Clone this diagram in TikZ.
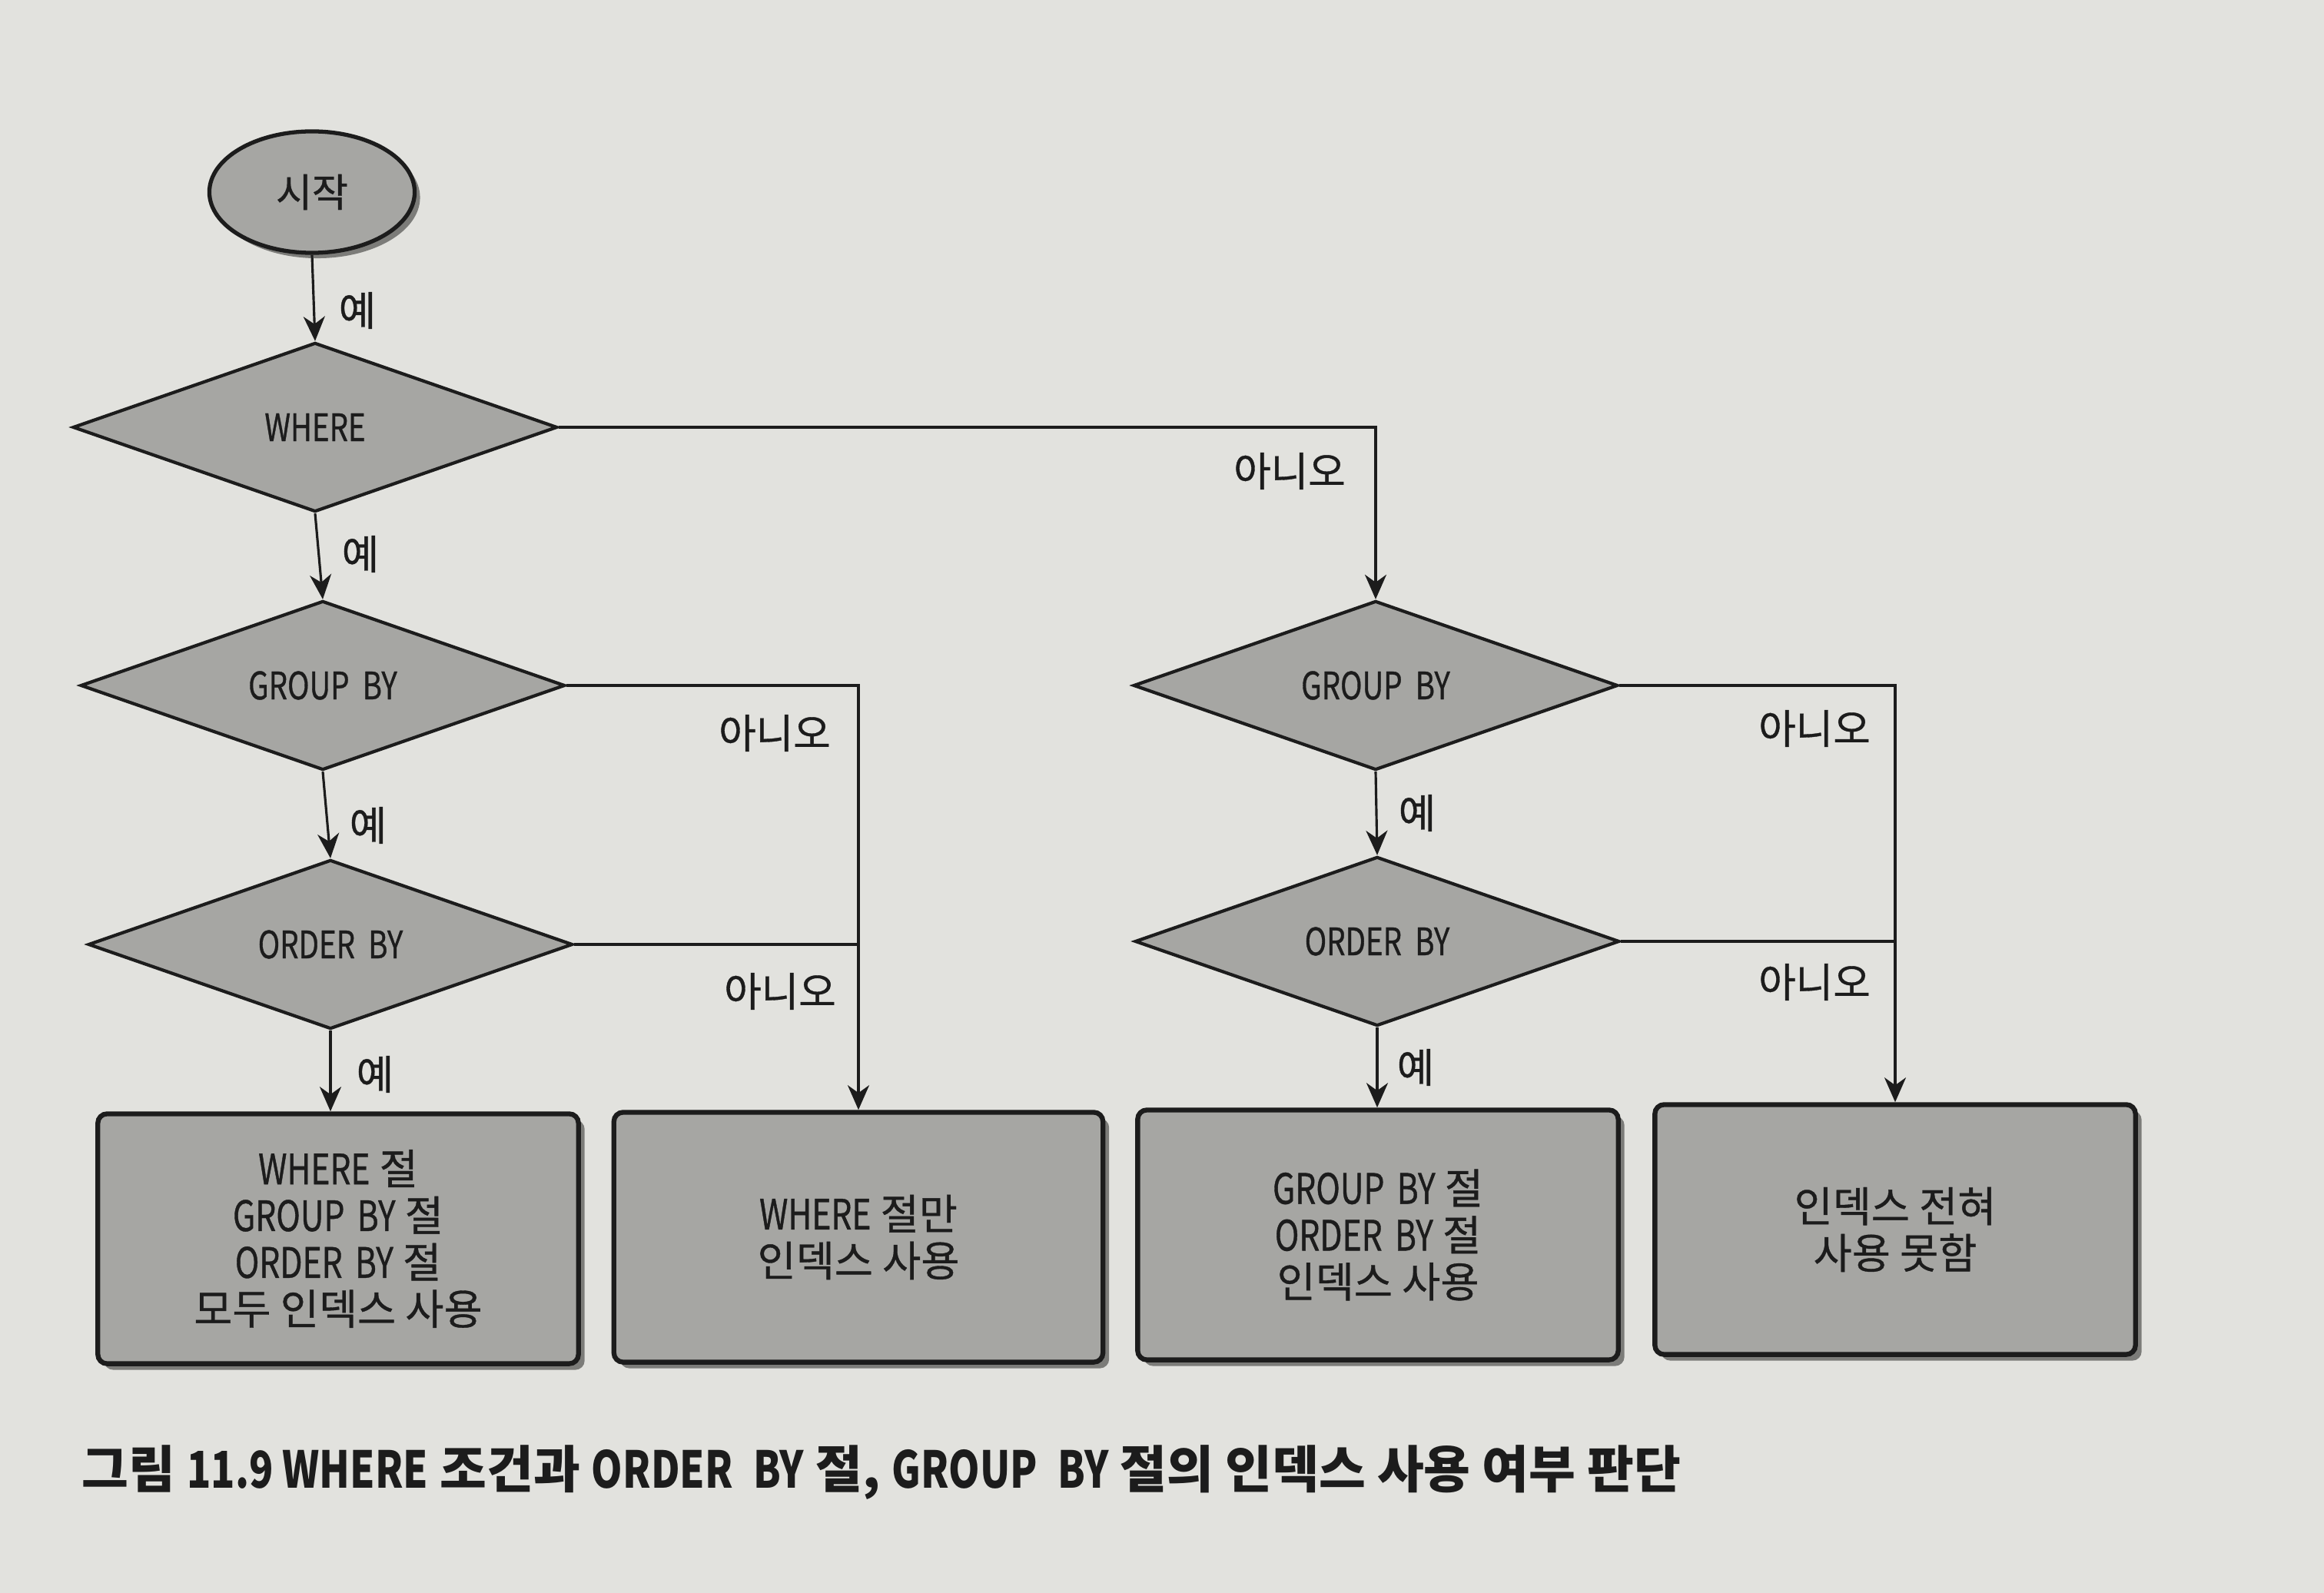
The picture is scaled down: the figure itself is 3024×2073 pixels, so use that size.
\documentclass[tikz,border=0pt]{standalone}
\usepackage{fontspec}
\setmainfont{Noto Sans CJK KR}
\newfontfamily\latf[FakeStretch=0.78]{Noto Sans CJK KR}
\newfontfamily\dkr[FakeBold=0.7]{Noto Sans CJK KR}
\newfontfamily\dlat[FakeStretch=0.78,FakeBold=0.7]{Noto Sans CJK KR}
\newcommand\lw[1]{{\latf #1}}
\newcommand\dw[1]{{\dlat #1}}
\usetikzlibrary{shapes.geometric,arrows.meta,shadows}
\definecolor{paper}{HTML}{E2E2DE}
\definecolor{shapefill}{HTML}{A6A6A3}
\definecolor{ink}{HTML}{1C1C1C}
\begin{document}
\begin{tikzpicture}[x=0.01cm,y=-0.01cm,
  dia/.style={diamond, draw=ink, line width=1.2pt, fill=shapefill,
    minimum width=6.3cm, minimum height=2.2cm, inner sep=0pt, aspect=2.86,
    font=\dkr\fontsize{14}{16}\selectfont, text=ink},
  term/.style={ellipse, draw=ink, line width=1.5pt, fill=shapefill,
    minimum width=2.67cm, minimum height=1.58cm, text=ink,
    font=\dkr\fontsize{14.5}{16}\selectfont,
    drop shadow={shadow xshift=0.07cm, shadow yshift=-0.07cm, opacity=0.45, fill=black}},
  res/.style={rectangle, rounded corners=0.12cm, draw=ink, line width=1.8pt,
    fill=shapefill, minimum width=6.25cm, minimum height=3.25cm, align=center,
    font=\dkr\fontsize{15.5}{17.3}\selectfont, text=ink,
    drop shadow={shadow xshift=0.08cm, shadow yshift=-0.08cm, opacity=0.45, fill=black}},
  conn/.style={draw=ink, line width=0.9pt},
  arr/.style={conn, -{Stealth[length=0.32cm,width=0.28cm,inset=0.1cm]}},
  lab/.style={font=\dkr\fontsize{15}{16}\selectfont, text=ink, inner sep=0pt}
]
\useasboundingbox (0,0) rectangle (3024,2073);
\fill[paper] (0,0) rectangle (3024,2073);

% nodes
\node[term] (start) at (406,250) {시작};
\node[dia] (where) at (410,556) {\dw{WHERE}};
\node[dia] (gbL) at (420,892) {\dw{GROUP\hspace{0.35em}BY}};
\node[dia] (obL) at (430,1229) {\dw{ORDER\hspace{0.35em}BY}};
\node[dia] (gbR) at (1790,892) {\dw{GROUP\hspace{0.35em}BY}};
\node[dia] (obR) at (1792,1225) {\dw{ORDER\hspace{0.35em}BY}};

\node[res] (b1) at (440,1612) {\dw{WHERE} 절\\\dw{GROUP\hspace{0.3em}BY} 절\\\dw{ORDER\hspace{0.3em}BY} 절\\모두 인덱스 사용};
\node[res, minimum width=6.36cm] (b2) at (1117,1610) {\dw{WHERE} 절만\\인덱스 사용};
\node[res] (b3) at (1793,1607) {\dw{GROUP\hspace{0.3em}BY} 절\\\dw{ORDER\hspace{0.3em}BY} 절\\인덱스 사용};
\node[res] (b4) at (2466,1600) {인덱스 전혀\\사용 못함};

% connectors
\draw[arr] (start.south) -- (where.north);
\draw[arr] (where.south) -- (gbL.north);
\draw[arr] (gbL.south) -- (obL.north);
\draw[arr] (obL.south) -- (obL.south |- b1.north);
\draw[arr] (where.east) -| (gbR.north);
\draw[arr] (gbL.east) -| (b2.north);
\draw[conn] (obL.east) -- (obL.east -| b2.north);
\draw[arr] (gbR.south) -- (obR.north);
\draw[arr] (obR.south) -- (obR.south |- b3.north);
\draw[arr] (gbR.east) -| (b4.north);
\draw[conn] (obR.east) -- (obR.east -| b4.north);

% labels
\node[lab] (y1) at (465,404) {예};
\node[lab] (y2) at (469,721) {예};
\node[lab] (y3) at (479,1074) {예};
\node[lab] (y4) at (488,1398) {예};
\node[lab] (y5) at (1844,1058) {예};
\node[lab] (y6) at (1842,1389) {예};
\node[lab] (n1) at (1678,613) {아니오};
\node[lab] (n2) at (1008,954) {아니오};
\node[lab] (n3) at (1015,1290) {아니오};
\node[lab] (n4) at (2361,948) {아니오};
\node[lab] (n5) at (2361,1278) {아니오};

% caption
\node[font=\bfseries\fontsize{18.8}{20}\selectfont, text=ink, anchor=west, inner sep=0pt] (cap) at (106,1916)
  {그림 \lw{11.9 WHERE} 조건과 \lw{ORDER\hspace{0.4em}BY} 절, \lw{GROUP\hspace{0.4em}BY} 절의 인덱스 사용 여부 판단};
\end{tikzpicture}
\end{document}
